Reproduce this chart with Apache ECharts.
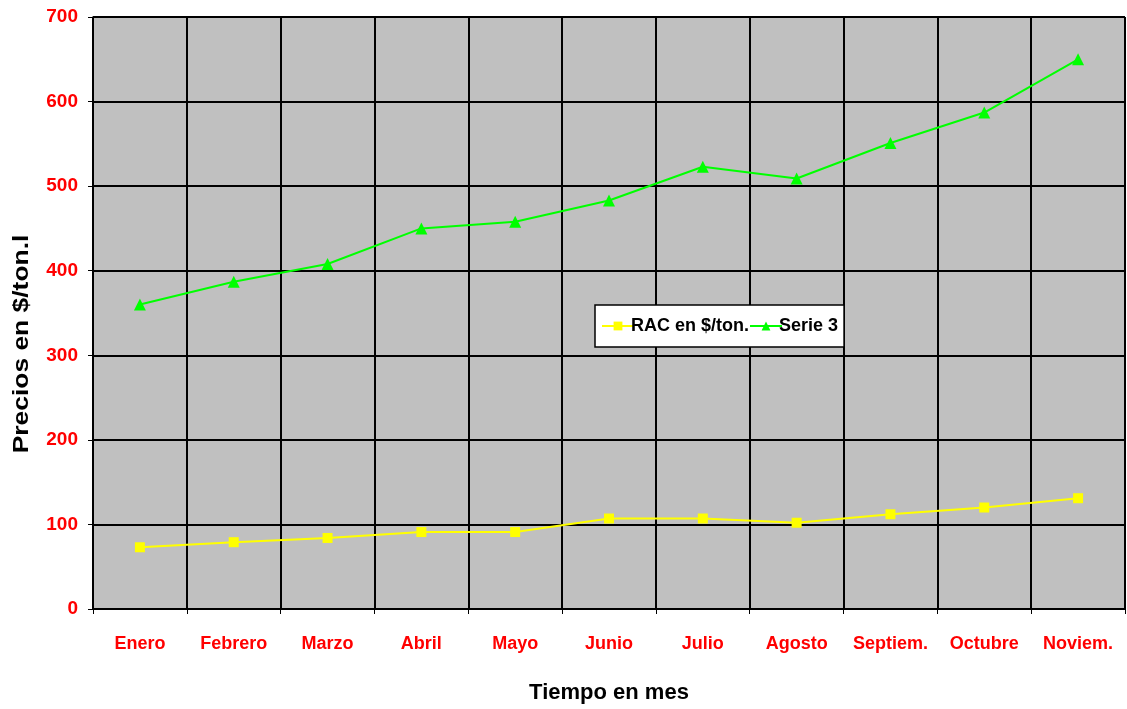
<!DOCTYPE html>
<html><head><meta charset="utf-8">
<script src="https://cdn.jsdelivr.net/npm/echarts@6/dist/echarts.min.js"></script>
<style>html,body{margin:0;padding:0;background:#fff}#c{width:1127px;height:709px}</style>
</head><body><div id="c"></div>
<script>
var categories = ['Enero','Febrero','Marzo','Abril','Mayo','Junio','Julio','Agosto','Septiem.','Octubre','Noviem.'];
var racValues = [73, 79, 84, 91, 91, 107, 107, 102, 112, 120, 131];
var serie3Values = [360, 387, 408, 450, 458, 483, 523, 509, 551, 587, 650];
var yTicks = [0, 100, 200, 300, 400, 500, 600, 700];
var xAxisTitle = 'Tiempo en mes';
var yAxisTitle = 'Precios en $/ton.l';

var chart = echarts.init(document.getElementById('c'));
var font = 'Liberation Sans, Arial, sans-serif';
chart.setOption({
  animation: false,
  grid: {left: 93, top: 17, right: 2, bottom: 99, show: true, backgroundColor: '#c0c0c0', borderColor: '#a0a0a0', borderWidth: 1},
  legend: {
    left: 595, top: 305,
    backgroundColor: '#fff', borderColor: '#000', borderWidth: 1.5, borderRadius: 0,
    padding: [12, 6, 12, 6], itemGap: 0, itemWidth: 32, itemHeight: 11,
    textStyle: {fontFamily: font, fontWeight: 'bold', fontSize: 18, color: '#000', padding: [0, 0, 0, -8]},
    data: [{name: 'RAC en $/ton.'}, {name: 'Serie 3'}]
  },
  graphic: [{
    type: 'text', x: 22, y: 344, rotation: Math.PI / 2, scaleX: 1.2, scaleY: 1,
    style: {text: yAxisTitle, fontFamily: font, fontWeight: 'bold', fontSize: 22, fill: '#000',
      align: 'center', verticalAlign: 'middle'}
  }],
  xAxis: {
    type: 'category', data: categories, boundaryGap: true,
    name: xAxisTitle, nameLocation: 'middle', nameGap: 73,
    nameTextStyle: {fontFamily: font, fontWeight: 'bold', fontSize: 22, color: '#000'},
    axisLine: {lineStyle: {color: '#000', width: 1.5}},
    axisTick: {show: true, interval: 0, length: 5, lineStyle: {color: '#000'}},
    axisLabel: {interval: 0, hideOverlap: false, fontFamily: font, fontWeight: 'bold', fontSize: 18, color: '#ff0000', margin: 26},
    splitLine: {show: true, interval: 0, lineStyle: {color: '#000', width: 2}}
  },
  yAxis: {
    type: 'value', min: 0, max: 700, interval: 100,
    axisLine: {show: true, lineStyle: {color: '#000', width: 1.5}},
    axisTick: {show: true, length: 5, lineStyle: {color: '#000'}},
    axisLabel: {fontFamily: font, fontWeight: 'bold', fontSize: 19, color: '#ff0000', margin: 15,
      formatter: function (v) { return yTicks.indexOf(v) >= 0 ? String(v) : ''; }},
    splitLine: {show: true, lineStyle: {color: '#000', width: 2}}
  },
  series: [
    {name: 'RAC en $/ton.', type: 'line', data: racValues, symbol: 'rect', symbolSize: 10,
      itemStyle: {color: '#ffff00'}, lineStyle: {color: '#ffff00', width: 2}},
    {name: 'Serie 3', type: 'line', data: serie3Values, symbol: 'triangle', symbolSize: 12,
      itemStyle: {color: '#00ff00'}, lineStyle: {color: '#00ff00', width: 2}}
  ]
});
</script></body></html>
